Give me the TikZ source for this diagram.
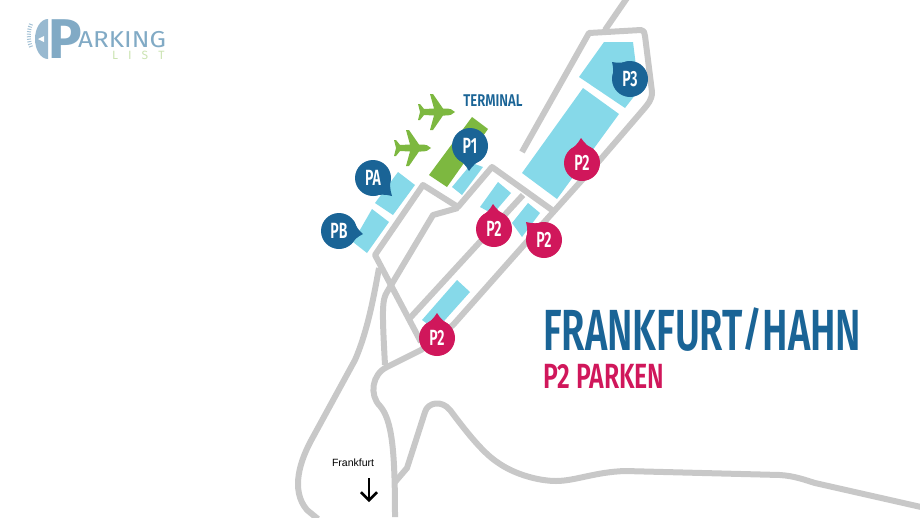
\documentclass[tikz,border=0pt]{standalone}
\usepackage{fontspec}
\setmainfont{Fira Sans}
\newfontfamily\signfont{Fira Sans SemiBold}
\usepackage{xcolor}
\usepackage{tikz}
\usetikzlibrary{calc, arrows.meta}
\definecolor{roadgray}{HTML}{C8C8C8}
\definecolor{lotblue}{HTML}{86D9E9}
\definecolor{pinblue}{HTML}{1A6496}
\definecolor{pinred}{HTML}{D0175B}
\definecolor{termgreen}{HTML}{7DB840}
\tikzset{
	road/.style={
		draw=roadgray,
		line width=6pt,
		line join=round,
		line cap=butt
	},
	lot/.style={
		fill=lotblue
	},
	pin circle/.style={
		circle,
		fill=#1,
		minimum size=36pt,
		inner sep=0pt,
		outer sep=0pt,
		text=white,
		font=\fontsize{22}{22}\signfont
	},
	plane/.pic={
		\fill[termgreen] (19,0) .. controls (17,-2.5) and (14,-3.5) .. (9,-3.5)
			-- (7,-3.5) -- (-3,-18) -- (-6,-18) -- (-2,-3.5) -- (-12,-3) -- (-16,-8) -- (-18,-8) -- (-16,0)
			-- (-18,8) -- (-16,8) -- (-12,3) -- (-2,3.5) -- (-6,18) -- (-3,18) -- (7,3.5) -- (9,3.5)
			.. controls (14,3.5) and (17,2.5) .. (19,0) -- cycle;
	}
}
\newcommand{\narrowtext}[2]{\scalebox{#1}[1]{#2}}
% name, centre, tip, colour, label
\newcommand{\parkpin}[5]{
	\coordinate (#1tip) at (#3);
	\node[pin circle=#4] (#1) at (#2) {\narrowtext{.64}{#5}};
	\fill[#4] (#1tip) to[bend left=14] (tangent cs:node=#1,point={(#1tip)},solution=1)
		-- (tangent cs:node=#1,point={(#1tip)},solution=2) to[bend left=14] (#1tip) -- cycle;
}

\begin{document}
\begin{tikzpicture}[x=1pt, y=-1pt]
	\useasboundingbox (0,0) rectangle (920,517);

	% parking areas
	\fill[lot] (604,42) -- (633,42) -- (639,90) -- (625,108) -- (579,77) -- cycle;
	\fill[lot] (583,88) -- (619,114) -- (557,199) -- (522,173) -- cycle;
	\fill[lot] (472,163) -- (483,167) -- (462,195) -- (452,187) -- cycle;
	\fill[lot] (398,172) -- (415,185) -- (393,215) -- (375,203) -- cycle;
	\fill[lot] (372,209) -- (389,222) -- (367,253) -- (353,242) -- cycle;
	\fill[lot] (498,182) -- (511,193) -- (493,214) -- (480,207) -- cycle;
	\fill[lot] (528,203) -- (540,213) -- (522,237) -- (512,223) -- cycle;
	\fill[lot] (457,280) -- (470,292) -- (436,330) -- (422,320) -- cycle;

	% terminal
	\fill[termgreen] (472,117) -- (488,129) -- (447,187) -- (429,175) -- cycle;
	\pic at (436,112) {plane};
	\pic at (412,148) {plane};
	\node[text=pinblue, font=\fontsize{17}{17}\signfont] (terminal) at (493,101) {\narrowtext{.77}{TERMINAL}};

	% roads
	\draw[road] (627,-2) -- (605,30);
	\draw[road] (522,152) -- (589,33) -- (641,30) .. controls (644,30) and (644,32) .. (645,36)
		-- (652,92) .. controls (652,100) and (648,104) .. (643,110)
		-- (600,160) -- (547,219) -- (453,325) -- (421,350) -- (387,367)
		.. controls (372,374) and (369,395) .. (380,406)
		.. controls (392,420) and (395,450) .. (395,517);
	\draw[road] (552,210) -- (492,167) -- (458,207) -- (423,185) -- (375,255) -- (421,342);
	\draw[road] (458,208) -- (433,215) -- (387,292) .. controls (382,300) and (382,310) .. (385,365);
	\draw[road] (523,195) -- (410,318);
	\draw[road] (379,268) .. controls (374,295) and (368,330) .. (355,360)
		-- (313,437) .. controls (300,460) and (290,490) .. (307,510) -- (318,519);
	\draw[road] (395,482) -- (407,468) -- (425,412) .. controls (428,402) and (442,400) .. (450,410)
		.. controls (465,430) and (482,452) .. (497,462)
		.. controls (515,475) and (540,481) .. (556,481)
		.. controls (575,481) and (595,472) .. (625,471)
		-- (780,475) .. controls (795,476) and (805,480) .. (815,483) -- (921,507);

	% pins
	\parkpin{pinPB}{339,231}{363,234}{pinblue}{PB}
	\parkpin{pinPA}{373,178}{392,196}{pinblue}{PA}
	\parkpin{pinPO}{470,146}{469,171}{pinblue}{P1}
	\parkpin{pinPT}{630,79}{612,62}{pinblue}{P3}
	\parkpin{pinPa}{582,163}{581,138}{pinred}{P2}
	\parkpin{pinPb}{494,229}{493,204}{pinred}{P2}
	\parkpin{pinPc}{544,240}{526,222}{pinred}{P2}
	\parkpin{pinPd}{437,338}{437,313}{pinred}{P2}

	% title
	\node[anchor=west, inner sep=0pt, text=pinblue, font=\fontsize{58}{58}\signfont] (title) at (543,330) {\narrowtext{.656}{FRANKFURT\raisebox{5pt}{\scalebox{1}[.8]{/}}HAHN}};
	\node[anchor=west, inner sep=0pt, text=pinred, font=\fontsize{35}{35}\signfont] (subtitle) at (543,376) {\narrowtext{.71}{P2 PARKEN}};

	% way out
	\node[font=\fontsize{10.5}{10.5}\selectfont] (frankfurt) at (353,463) {\setmainfont{Liberation Sans}Frankfurt};
	\coordinate (arrowtop) at (369,478);
	\coordinate (arrowend) at (369,502);
	\draw[-{Straight Barb[length=8pt,width=16pt]}, line width=2.5pt] (arrowtop) -- (arrowend);

	% logo
	\draw[pinblue!40, line width=4pt, dash pattern=on 1pt off 1.5pt] (31,24) .. controls (28,31) and (28,40) .. (31,47);
	\fill[pinblue!45] (48,19) arc[start angle=270, end angle=90, x radius=13, y radius=20] -- cycle;
	\fill[white] (44,36) -- (44,42) -- (38,39) -- cycle;
	\node[anchor=west, inner sep=0pt, text=pinblue!55, font=\fontsize{56}{56}\selectfont\bfseries] (logoP) at (48,39) {P};
	\node[anchor=west, inner sep=0pt, text=pinblue!55, font=\fontsize{23}{23}\selectfont] (logotext) at (78,40) {\narrowtext{1.13}{ARKING}};
	\node[anchor=west, inner sep=0pt, text=termgreen!40, font=\fontsize{12}{12}\selectfont] (logolist) at (112,55) {L\hspace{10pt}I\hspace{10pt}S\hspace{10pt}T};
\end{tikzpicture}
\end{document}
